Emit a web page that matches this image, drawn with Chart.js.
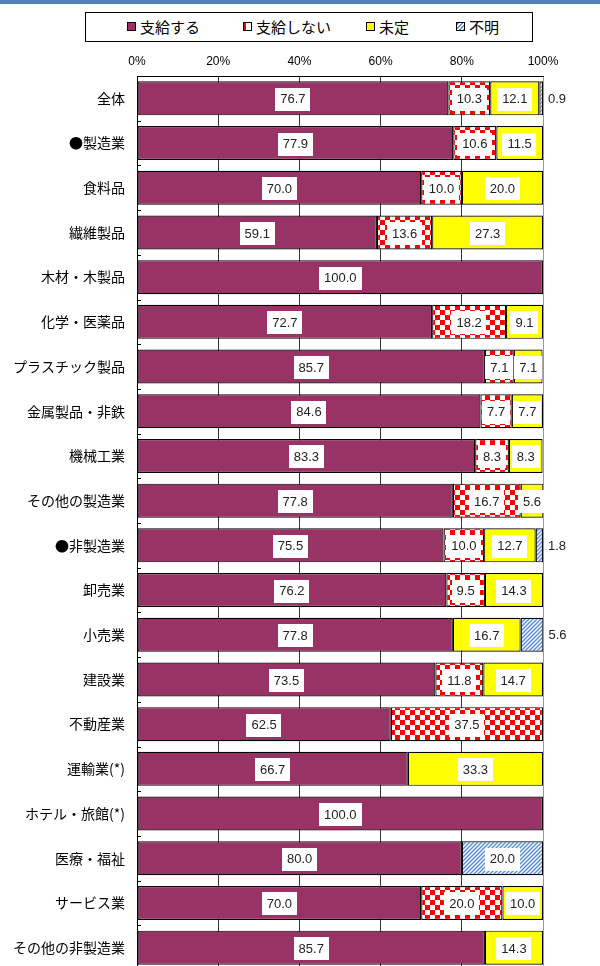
<!DOCTYPE html>
<html>
<head>
<meta charset="utf-8">
<script src="https://cdn.jsdelivr.net/npm/chart.js@4"></script>
<style>
  html, body { margin: 0; padding: 0; background: #fff; width: 600px; height: 966px; overflow: hidden; }
  #banner { position: absolute; left: 0; top: 0; width: 600px; height: 4px; background: #4f81bd; }
  #legend { position: absolute; left: 85px; top: 12px; width: 446px; height: 28px; border: 1px solid #000;
            font-family: "Noto Sans CJK JP", sans-serif; font-size: 15px; color: #000; background: #fff; z-index: 2; }
  .item { position: absolute; top: 0; height: 28px; line-height: 28px; white-space: nowrap; }
  .mk { display: inline-block; width: 7px; height: 7px; border: 1px solid #000; margin-right: 4px;
        vertical-align: middle; position: relative; top: -2px; }
  #chart { position: absolute; left: 0; top: 0; }
</style>
</head>
<body>
<div id="banner"></div>
<div id="legend">
  <div class="item" style="left:41px"><span class="mk" style="background:#993366"></span>支給する</div>
  <div class="item" style="left:157px"><span class="mk" style="background:linear-gradient(to right,#f00 35%,#fff 35%)"></span>支給しない</div>
  <div class="item" style="left:280px"><span class="mk" style="background:#ff0"></span>未定</div>
  <div class="item" style="left:370px"><span class="mk" style="background:repeating-linear-gradient(135deg,#5b8fd6 0 1.5px,#fff 1.5px 3px)"></span>不明</div>
</div>
<canvas id="chart" width="600" height="970"></canvas>
<script>
// 業種
const categories = [
  '全体', '●製造業', '食料品', '繊維製品', '木材・木製品', '化学・医薬品',
  'プラスチック製品', '金属製品・非鉄', '機械工業', 'その他の製造業',
  '●非製造業', '卸売業', '小売業', '建設業', '不動産業', '運輸業(*)',
  'ホテル・旅館(*)', '医療・福祉', 'サービス業', 'その他の非製造業'
];
// 支給する
const giveYes   = [76.7, 77.9, 70.0, 59.1, 100.0, 72.7, 85.7, 84.6, 83.3, 77.8, 75.5, 76.2, 77.8, 73.5, 62.5, 66.7, 100.0, 80.0, 70.0, 85.7];
// 支給しない
const giveNo    = [10.3, 10.6, 10.0, 13.6, 0, 18.2, 7.1, 7.7, 8.3, 16.7, 10.0, 9.5, 0, 11.8, 37.5, 0, 0, 0, 20.0, 0];
// 未定
const undecided = [12.1, 11.5, 20.0, 27.3, 0, 9.1, 7.1, 7.7, 8.3, 5.6, 12.7, 14.3, 16.7, 14.7, 0, 33.3, 0, 0, 10.0, 14.3];
// 不明
const unknown   = [0.9, 0, 0, 0, 0, 0, 0, 0, 0, 0, 1.8, 0, 5.6, 0, 0, 0, 0, 20.0, 0, 0];
const xTicks = [0, 20, 40, 60, 80, 100];

const nz = arr => arr.map(v => v === 0 ? null : v);

function checker() {
  const c = document.createElement('canvas');
  c.width = c.height = 10;
  const g = c.getContext('2d');
  g.fillStyle = '#fff'; g.fillRect(0, 0, 10, 10);
  g.fillStyle = '#ff0000'; g.fillRect(0, 0, 5, 5); g.fillRect(5, 5, 5, 5);
  return g.createPattern(c, 'repeat');
}
function stripes() {
  const c = document.createElement('canvas');
  c.width = c.height = 4;
  const g = c.getContext('2d');
  g.fillStyle = '#fff'; g.fillRect(0, 0, 4, 4);
  g.strokeStyle = '#5b8fd6'; g.lineWidth = 1.5;
  g.beginPath();
  g.moveTo(0, 4); g.lineTo(4, 0);
  g.moveTo(-1, 1); g.lineTo(1, -1);
  g.moveTo(3, 5); g.lineTo(5, 3);
  g.stroke();
  return g.createPattern(c, 'repeat');
}

const valueLabels = {
  id: 'valueLabels',
  afterDatasetsDraw(chart) {
    const ctx = chart.ctx;
    const area = chart.chartArea;
    // small marks on the axis between categories
    ctx.save();
    ctx.strokeStyle = '#000'; ctx.lineWidth = 1;
    const band = (area.bottom - area.top) / categories.length;
    for (let k = 1; k < categories.length; k++) {
      const y = Math.round(area.top + k * band) + 0.5;
      ctx.beginPath(); ctx.moveTo(area.left, y); ctx.lineTo(area.left + 4, y); ctx.stroke();
    }
    ctx.font = '13px "Liberation Sans", Arial, sans-serif';
    ctx.textBaseline = 'middle';
    chart.data.datasets.forEach((ds, di) => {
      const meta = chart.getDatasetMeta(di);
      meta.data.forEach((bar, i) => {
        const v = ds.data[i];
        if (v == null) return;
        const p = bar.getProps(['x', 'base', 'y'], true);
        const txt = v.toFixed(1);
        const tw = ctx.measureText(txt).width;
        const segW = Math.abs(p.x - p.base);
        if (di === 3 && segW < 30) {
          ctx.fillStyle = '#222'; ctx.textAlign = 'left';
          ctx.fillText(txt, p.x + 5, p.y + 1);
          return;
        }
        const cx = (p.x + p.base) / 2;
        const w = tw + 10, h = 23;
        ctx.fillStyle = '#fff';
        ctx.fillRect(Math.round(cx - w / 2), Math.round(p.y - h / 2 + 1), Math.round(w), h);
        ctx.fillStyle = '#222'; ctx.textAlign = 'center';
        ctx.fillText(txt, cx, p.y + 1.5);
      });
    });
    ctx.restore();
  }
};

const canvas = document.getElementById('chart');
new Chart(canvas, {
  type: 'bar',
  data: {
    labels: categories,
    datasets: [
      { label: '支給する', data: nz(giveYes), backgroundColor: '#993366' },
      { label: '支給しない', data: nz(giveNo), backgroundColor: checker() },
      { label: '未定', data: nz(undecided), backgroundColor: '#ffff00' },
      { label: '不明', data: nz(unknown), backgroundColor: stripes() }
    ]
  },
  options: {
    indexAxis: 'y',
    responsive: false,
    animation: false,
    layout: { padding: { left: 0, right: 57, top: 0, bottom: 0 } },
    datasets: {
      bar: { categoryPercentage: 1, barPercentage: 0.76, borderColor: '#000', borderWidth: 1.2, borderSkipped: false }
    },
    plugins: { legend: { display: false }, tooltip: { enabled: false } },
    scales: {
      x: {
        position: 'top',
        stacked: true,
        min: 0, max: 100,
        afterFit: s => { s.height = 76; },
        afterBuildTicks: s => { s.ticks = xTicks.map(v => ({ value: v })); },
        ticks: {
          padding: 7, color: '#000',
          font: { family: '"Liberation Sans", Arial, sans-serif', size: 12 },
          callback: v => v + '%'
        },
        grid: { drawTicks: false, color: c => (c.tick && c.tick.value === 100) ? '#999' : '#333' },
        border: { color: '#000' }
      },
      y: {
        stacked: true,
        afterFit: s => { s.width = 137; s.paddingTop = 0; s.paddingBottom = 0; },
        ticks: {
          padding: 4, color: '#000', autoSkip: false,
          font: { family: '"Noto Sans CJK JP", sans-serif', size: 14 }
        },
        grid: { display: false },
        border: { color: '#000', width: 1 }
      }
    }
  },
  plugins: [valueLabels]
});
</script>
</body>
</html>
